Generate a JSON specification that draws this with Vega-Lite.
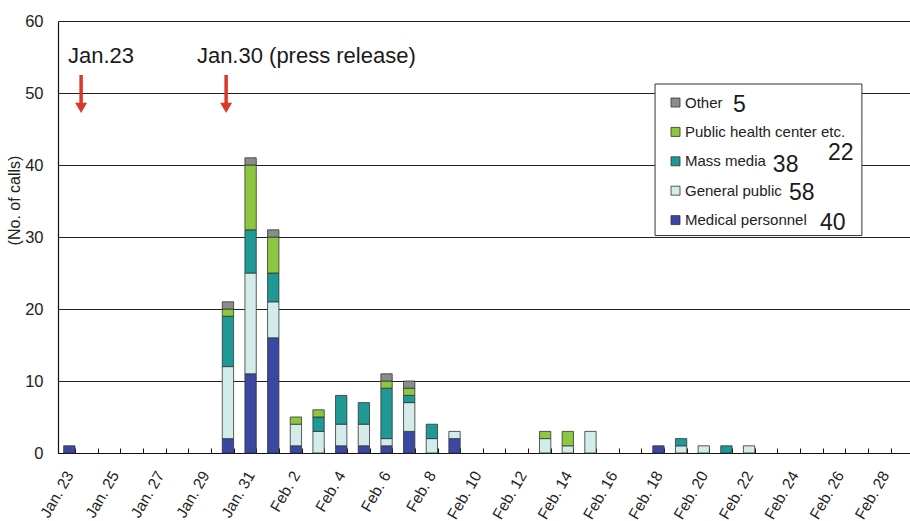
{
  "$schema": "https://vega.github.io/schema/vega-lite/v6.json",
  "autosize": "none",
  "width": 852,
  "height": 432,
  "padding": {"left": 58, "top": 21, "right": 0, "bottom": 68},
  "background": "white",
  "config": {
    "font": "Liberation Sans",
    "view": {"stroke": null}
  },
  "resolve": {"scale": {"x": "independent", "y": "independent"}},
  "layer": [
    {
      "data": {"values": [
        {"d": "Jan. 23", "cat": "Medical personnel", "n": 1},
        {"d": "Jan. 30", "cat": "Medical personnel", "n": 2},
        {"d": "Jan. 30", "cat": "General public", "n": 10},
        {"d": "Jan. 30", "cat": "Mass media", "n": 7},
        {"d": "Jan. 30", "cat": "Public health center etc.", "n": 1},
        {"d": "Jan. 30", "cat": "Other", "n": 1},
        {"d": "Jan. 31", "cat": "Medical personnel", "n": 11},
        {"d": "Jan. 31", "cat": "General public", "n": 14},
        {"d": "Jan. 31", "cat": "Mass media", "n": 6},
        {"d": "Jan. 31", "cat": "Public health center etc.", "n": 9},
        {"d": "Jan. 31", "cat": "Other", "n": 1},
        {"d": "Feb. 1", "cat": "Medical personnel", "n": 16},
        {"d": "Feb. 1", "cat": "General public", "n": 5},
        {"d": "Feb. 1", "cat": "Mass media", "n": 4},
        {"d": "Feb. 1", "cat": "Public health center etc.", "n": 5},
        {"d": "Feb. 1", "cat": "Other", "n": 1},
        {"d": "Feb. 2", "cat": "Medical personnel", "n": 1},
        {"d": "Feb. 2", "cat": "General public", "n": 3},
        {"d": "Feb. 2", "cat": "Public health center etc.", "n": 1},
        {"d": "Feb. 3", "cat": "General public", "n": 3},
        {"d": "Feb. 3", "cat": "Mass media", "n": 2},
        {"d": "Feb. 3", "cat": "Public health center etc.", "n": 1},
        {"d": "Feb. 4", "cat": "Medical personnel", "n": 1},
        {"d": "Feb. 4", "cat": "General public", "n": 3},
        {"d": "Feb. 4", "cat": "Mass media", "n": 4},
        {"d": "Feb. 5", "cat": "Medical personnel", "n": 1},
        {"d": "Feb. 5", "cat": "General public", "n": 3},
        {"d": "Feb. 5", "cat": "Mass media", "n": 3},
        {"d": "Feb. 6", "cat": "Medical personnel", "n": 1},
        {"d": "Feb. 6", "cat": "General public", "n": 1},
        {"d": "Feb. 6", "cat": "Mass media", "n": 7},
        {"d": "Feb. 6", "cat": "Public health center etc.", "n": 1},
        {"d": "Feb. 6", "cat": "Other", "n": 1},
        {"d": "Feb. 7", "cat": "Medical personnel", "n": 3},
        {"d": "Feb. 7", "cat": "General public", "n": 4},
        {"d": "Feb. 7", "cat": "Mass media", "n": 1},
        {"d": "Feb. 7", "cat": "Public health center etc.", "n": 1},
        {"d": "Feb. 7", "cat": "Other", "n": 1},
        {"d": "Feb. 8", "cat": "General public", "n": 2},
        {"d": "Feb. 8", "cat": "Mass media", "n": 2},
        {"d": "Feb. 9", "cat": "Medical personnel", "n": 2},
        {"d": "Feb. 9", "cat": "General public", "n": 1},
        {"d": "Feb. 13", "cat": "General public", "n": 2},
        {"d": "Feb. 13", "cat": "Public health center etc.", "n": 1},
        {"d": "Feb. 14", "cat": "General public", "n": 1},
        {"d": "Feb. 14", "cat": "Public health center etc.", "n": 2},
        {"d": "Feb. 15", "cat": "General public", "n": 3},
        {"d": "Feb. 18", "cat": "Medical personnel", "n": 1},
        {"d": "Feb. 19", "cat": "General public", "n": 1},
        {"d": "Feb. 19", "cat": "Mass media", "n": 1},
        {"d": "Feb. 20", "cat": "General public", "n": 1},
        {"d": "Feb. 21", "cat": "Mass media", "n": 1},
        {"d": "Feb. 22", "cat": "General public", "n": 1}
      ]},
      "transform": [
        {"calculate": "indexof(['Medical personnel','General public','Mass media','Public health center etc.','Other'], datum.cat)", "as": "o"}
      ],
      "mark": {"type": "bar", "stroke": "#333333", "strokeWidth": 0.8},
      "encoding": {
        "x": {
          "field": "d", "type": "nominal", "sort": null,
          "scale": {
            "domain": ["Jan. 23","Jan. 24","Jan. 25","Jan. 26","Jan. 27","Jan. 28","Jan. 29","Jan. 30","Jan. 31","Feb. 1","Feb. 2","Feb. 3","Feb. 4","Feb. 5","Feb. 6","Feb. 7","Feb. 8","Feb. 9","Feb. 10","Feb. 11","Feb. 12","Feb. 13","Feb. 14","Feb. 15","Feb. 16","Feb. 17","Feb. 18","Feb. 19","Feb. 20","Feb. 21","Feb. 22","Feb. 23","Feb. 24","Feb. 25","Feb. 26","Feb. 27","Feb. 28","Feb. 29"],
            "range": [0, 861],
            "paddingInner": 0.5,
            "paddingOuter": 0.25
          },
          "axis": {
            "title": null,
            "grid": false,
            "domainColor": "#111111",
            "domainWidth": 1.2,
            "ticks": true,
            "tickBand": "extent",
            "tickSize": -5,
            "tickColor": "#111111",
            "labelAngle": -60,
            "labelAlign": "right",
            "labelBaseline": "middle",
            "labelFontSize": 15.5,
            "labelColor": "#222222",
            "labelPadding": 24,
            "labelOverlap": false,
            "labelExpr": "indexof(['Jan. 23','Jan. 25','Jan. 27','Jan. 29','Jan. 31','Feb. 2','Feb. 4','Feb. 6','Feb. 8','Feb. 10','Feb. 12','Feb. 14','Feb. 16','Feb. 18','Feb. 20','Feb. 22','Feb. 24','Feb. 26','Feb. 28'], datum.value) >= 0 ? datum.label : ''"
          }
        },
        "y": {
          "field": "n", "type": "quantitative", "aggregate": "sum",
          "scale": {"domain": [0, 60], "nice": false},
          "axis": {
            "values": [0, 10, 20, 30, 40, 50, 60],
            "title": "(No. of calls)",
            "titleFontSize": 16,
            "titleFontWeight": "normal",
            "titleColor": "#222222",
            "titleX": -39,
            "titleY": 179,
            "titleAngle": -90,
            "titleAlign": "center",
            "titleBaseline": "alphabetic",
            "grid": true,
            "gridColor": "#222222",
            "gridWidth": 1,
            "domainColor": "#111111",
            "domainWidth": 1.2,
            "ticks": false,
            "labelFontSize": 16.5,
            "labelColor": "#222222",
            "labelPadding": 15
          }
        },
        "color": {
          "field": "cat", "type": "nominal",
          "scale": {
            "domain": ["Other", "Public health center etc.", "Mass media", "General public", "Medical personnel"],
            "range": ["#8c8c8c", "#8dc740", "#1e9995", "#d3ecea", "#3a47a3"]
          },
          "legend": {
            "title": null,
            "orient": "none",
            "legendX": 610,
            "legendY": 74,
            "padding": 0,
            "symbolType": "square",
            "symbolSize": 81,
            "symbolStrokeColor": "#333333",
            "symbolStrokeWidth": 0.8,
            "labelFontSize": 15,
            "labelColor": "#222222",
            "labelOffset": 2,
            "rowPadding": 13.4,
            "labelLimit": 300
          }
        },
        "order": {"field": "o", "type": "quantitative"}
      }
    },
    {
      "data": {"values": [{"x": 26.35, "x2": 35.48, "y": 51.25, "y2": 30.2}]},
      "mark": {"type": "rect", "fill": "white", "stroke": "#333333", "strokeWidth": 1},
      "encoding": {
        "x": {"field": "x", "type": "quantitative", "scale": {"domain": [0, 38], "range": [0, 861]}, "axis": null},
        "x2": {"field": "x2"},
        "y": {"field": "y", "type": "quantitative", "scale": {"domain": [0, 60], "nice": false}, "axis": null},
        "y2": {"field": "y2"}
      }
    },
    {
      "data": {"values": [
        {"x": 29.79, "y": 47.36, "t": "5"},
        {"x": 33.98, "y": 40.69, "t": "22"},
        {"x": 31.55, "y": 39.03, "t": "38"},
        {"x": 32.26, "y": 35.14, "t": "58"},
        {"x": 33.63, "y": 30.97, "t": "40"}
      ]},
      "mark": {"type": "text", "fontSize": 23, "align": "left", "baseline": "alphabetic", "color": "#1a1a1a"},
      "encoding": {
        "x": {"field": "x", "type": "quantitative", "scale": {"domain": [0, 38], "range": [0, 861]}, "axis": null},
        "y": {"field": "y", "type": "quantitative", "scale": {"domain": [0, 60], "nice": false}, "axis": null},
        "text": {"field": "t"}
      }
    },
    {
      "data": {"values": [
        {"x": 0.44, "y": 54.17, "t": "Jan.23"},
        {"x": 6.13, "y": 54.17, "t": "Jan.30 (press release)"}
      ]},
      "mark": {"type": "text", "fontSize": 22, "align": "left", "baseline": "alphabetic", "color": "#1a1a1a"},
      "encoding": {
        "x": {"field": "x", "type": "quantitative", "scale": {"domain": [0, 38], "range": [0, 861]}, "axis": null},
        "y": {"field": "y", "type": "quantitative", "scale": {"domain": [0, 60], "nice": false}, "axis": null},
        "text": {"field": "t"}
      }
    },
    {
      "data": {"values": [
        {"x": 1.02, "y": 52.5, "y2": 48.3},
        {"x": 7.42, "y": 52.5, "y2": 48.3}
      ]},
      "mark": {"type": "rule", "color": "#d8392b", "strokeWidth": 3.5},
      "encoding": {
        "x": {"field": "x", "type": "quantitative", "scale": {"domain": [0, 38], "range": [0, 861]}, "axis": null},
        "y": {"field": "y", "type": "quantitative", "scale": {"domain": [0, 60], "nice": false}, "axis": null},
        "y2": {"field": "y2"}
      }
    },
    {
      "data": {"values": [
        {"x": 1.02, "y": 47.94},
        {"x": 7.42, "y": 47.94}
      ]},
      "mark": {"type": "point", "shape": "triangle-down", "size": 144, "filled": true, "color": "#d8392b", "opacity": 1},
      "encoding": {
        "x": {"field": "x", "type": "quantitative", "scale": {"domain": [0, 38], "range": [0, 861]}, "axis": null},
        "y": {"field": "y", "type": "quantitative", "scale": {"domain": [0, 60], "nice": false}, "axis": null}
      }
    }
  ]
}
